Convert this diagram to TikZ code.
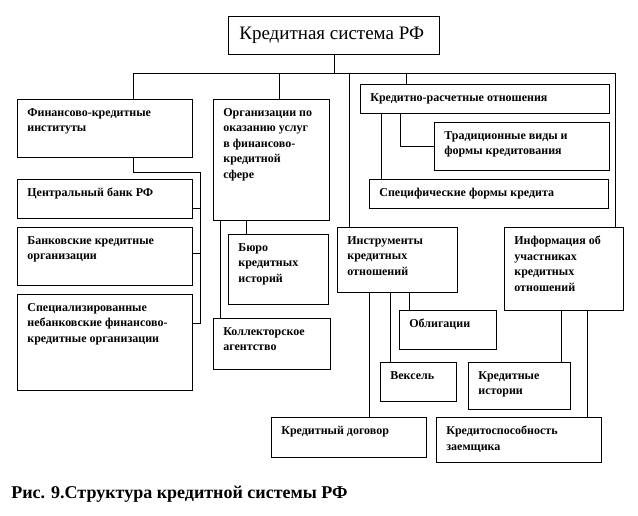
\documentclass[tikz,border=0pt]{standalone}
\usepackage{fontspec}
\setmainfont{Liberation Serif}
\begin{document}
\begin{tikzpicture}[x=1pt, y=-1pt, line width=0.7pt,
        box/.style={draw, inner sep=0pt, anchor=north west},
        lbl/.style={anchor=north west, inner sep=0pt, xshift=10pt, yshift=-9pt,
            align=left, font=\fontsize{12}{15.5}\selectfont\bfseries}]
    \useasboundingbox (0,0) rectangle (638,516);
    \coordinate (bus) at (0,73);
    % top
    \node[box, minimum width=211pt, minimum height=38pt,
        label={[anchor=west, inner sep=0pt, xshift=11pt, font=\fontsize{19}{23}\selectfont]west:{Кредитная система РФ}}] (sys) at (228,16) {};
    % left column
    \node[box, minimum width=175pt, minimum height=58pt,
        label={[lbl]north west:{Финансово-кредитные\\институты}}] (fin) at (17,99) {};
    \node[box, minimum width=175pt, minimum height=39pt,
        label={[lbl]north west:{Центральный банк РФ}}] (cb) at (17,179) {};
    \node[box, minimum width=175pt, minimum height=58pt,
        label={[lbl]north west:{Банковские кредитные\\организации}}] (bank) at (17,227) {};
    \node[box, minimum width=175pt, minimum height=96pt,
        label={[lbl]north west:{Специализированные\\небанковские финансово-\\кредитные организации}}] (spez) at (17,294) {};
    % middle column
    \node[box, minimum width=116pt, minimum height=121pt,
        label={[lbl]north west:{Организации по\\оказанию услуг\\в финансово-\\кредитной\\сфере}}] (org) at (213,99) {};
    \node[box, minimum width=100pt, minimum height=70pt,
        label={[lbl]north west:{Бюро\\кредитных\\историй}}] (buro) at (228,234) {};
    \node[box, minimum width=117pt, minimum height=51pt,
        label={[lbl]north west:{Коллекторское\\агентство}}] (koll) at (213,318) {};
    % right part
    \node[box, minimum width=249pt, minimum height=29pt,
        label={[lbl]north west:{Кредитно-расчетные отношения}}] (kr) at (360,84) {};
    \node[box, minimum width=175pt, minimum height=48pt,
        label={[lbl]north west:{Традиционные виды и\\формы кредитования}}] (trad) at (434,122) {};
    \node[box, minimum width=239pt, minimum height=29pt,
        label={[lbl]north west:{Специфические формы кредита}}] (spec) at (369,179) {};
    \node[box, minimum width=120pt, minimum height=65pt,
        label={[lbl]north west:{Инструменты\\кредитных\\отношений}}] (instr) at (337,227) {};
    \node[box, minimum width=119pt, minimum height=83pt,
        label={[lbl]north west:{Информация об\\участниках\\кредитных\\отношений}}] (info) at (504,227) {};
    \node[box, minimum width=97pt, minimum height=39pt,
        label={[lbl]north west:{Облигации}}] (obl) at (399,310) {};
    \node[box, minimum width=76pt, minimum height=39pt,
        label={[lbl]north west:{Вексель}}] (veks) at (380,362) {};
    \node[box, minimum width=102pt, minimum height=47pt,
        label={[lbl]north west:{Кредитные\\истории}}] (ki) at (468,362) {};
    \node[box, minimum width=155pt, minimum height=40pt,
        label={[lbl]north west:{Кредитный договор}}] (kd) at (271,417) {};
    \node[box, minimum width=165pt, minimum height=45pt,
        label={[lbl]north west:{Кредитоспособность\\заемщика}}] (kz) at (436,417) {};
    % connectors
    \draw (sys.south) -- (sys.south |- bus);
    \draw (fin.north -| 133,0) |- (bus -| 615,0) -- (info.north -| 615,0);
    \draw (org.north -| 279,0) -- (bus -| 279,0);
    \draw (instr.north -| 349,0) -- (bus -| 349,0);
    \draw (kr.north -| 406,0) -- (bus -| 406,0);
    \draw (fin.south -| 133,0) |- (200,172) -- (200,323) -- (spez.east |- 0,323);
    \draw (cb.east |- 0,208) -- (200,208);
    \draw (bank.east |- 0,253) -- (200,253);
    \draw (org.south -| 220,0) -- (koll.north -| 220,0);
    \draw (org.south -| 246,0) -- (buro.north -| 246,0);
    \draw (kr.south -| 381,0) -- (spec.north -| 381,0);
    \draw (kr.south -| 400,0) |- (trad.west);
    \draw (instr.south -| 369,0) -- (kd.north -| 369,0);
    \draw (instr.south -| 390,0) -- (veks.north -| 390,0);
    \draw (instr.south -| 409,0) -- (obl.north -| 409,0);
    \draw (info.south -| 561,0) -- (ki.north -| 561,0);
    \draw (info.south -| 587,0) -- (kz.north -| 587,0);
    % caption
    \node[anchor=base west, inner sep=0pt, font=\fontsize{18}{22}\selectfont\bfseries]
        (cap) at (11,498) {Рис. 9.Структура кредитной системы РФ};
\end{tikzpicture}
\end{document}
